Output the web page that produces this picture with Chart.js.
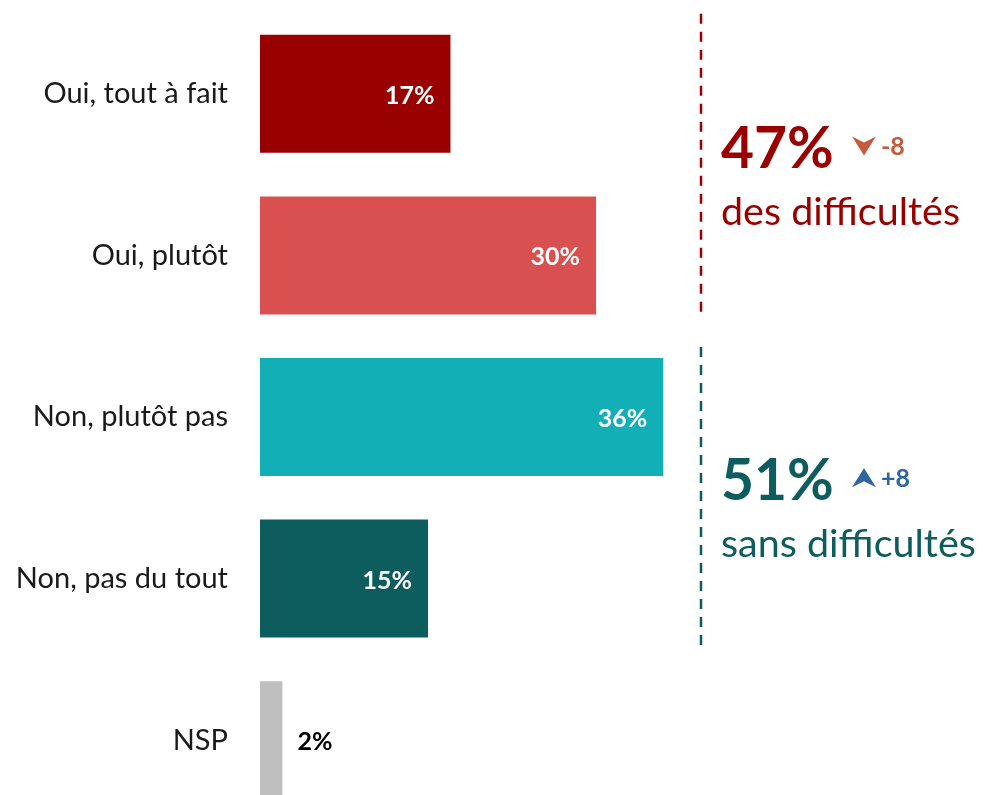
<!DOCTYPE html>
<html>
<head>
<meta charset="utf-8">
<script src="https://cdn.jsdelivr.net/npm/chart.js@4"></script>
<style>
  html, body { margin: 0; padding: 0; background: #fff; overflow: hidden; }
  canvas { display: block; }
</style>
</head>
<body>
<canvas id="chart" width="983" height="821"></canvas>
<script>
// Data
const categories = ["Oui, tout à fait", "Oui, plutôt", "Non, plutôt pas", "Non, pas du tout", "NSP"]
const values = [17, 30, 36, 15, 2]
const barColors = ["#990000", "#D95050", "#13AFB7", "#0D5C5E", "#BFBFBF"]

// Group summaries on the right
const groupTotals = ["47%", "51%"]
const groupTexts = ["des difficultés", "sans difficultés"]
const groupChanges = ["-8", "+8"]
const groupColors = ["#990000", "#0D5C5E"]
const changeColors = ["#C65A3E", "#2E64A0"]

const FONT = "Lato, 'Open Sans', sans-serif"

// value labels: white inside, black outside when the bar is too short
const barLabels = {
  id: "barLabels",
  afterDatasetsDraw(chart) {
    const ctx = chart.ctx
    const meta = chart.getDatasetMeta(0)
    ctx.save()
    ctx.font = "bold 25px " + FONT
    ctx.textBaseline = "middle"
    meta.data.forEach((bar, i) => {
      const txt = values[i] + "%"
      if (values[i] < 5) {
        ctx.fillStyle = "#000"
        ctx.textAlign = "left"
        ctx.fillText(txt, bar.x + 15, bar.y + 2)
      } else {
        ctx.fillStyle = "#fff"
        ctx.textAlign = "right"
        ctx.fillText(txt, bar.x - 16, bar.y + 2)
      }
    })
    ctx.restore()
  },
}

// dashed separators + totals
const groupNotes = {
  id: "groupNotes",
  afterDraw(chart) {
    const ctx = chart.ctx
    const y = chart.scales.y
    const lineX = 701
    const spans = [
      [y.getPixelForValue(0) - 80, y.getPixelForValue(1) + 62],
      [y.getPixelForValue(2) - 70, y.getPixelForValue(3) + 71],
    ]
    ctx.save()
    spans.forEach((s, g) => {
      ctx.strokeStyle = groupColors[g]
      ctx.lineWidth = 2.5
      ctx.setLineDash([10, 8])
      ctx.beginPath()
      ctx.moveTo(lineX, s[0])
      ctx.lineTo(lineX, s[1])
      ctx.stroke()
      ctx.setLineDash([])

      const topY = (s[0] + s[1]) / 2 + 2
      const x0 = 721

      ctx.fillStyle = groupColors[g]
      ctx.textAlign = "left"
      ctx.textBaseline = "alphabetic"
      ctx.font = "bold 57px " + FONT
      ctx.fillText(groupTotals[g], x0, topY)

      // chevron arrow
      const ax = 864
      const ay = topY - 22
      ctx.fillStyle = changeColors[g]
      ctx.beginPath()
      if (g === 0) {
        ctx.moveTo(ax - 12, ay - 9)
        ctx.lineTo(ax, ay - 3)
        ctx.lineTo(ax + 12, ay - 9)
        ctx.lineTo(ax, ay + 10)
      } else {
        ctx.moveTo(ax - 12, ay + 9)
        ctx.lineTo(ax, ay + 3)
        ctx.lineTo(ax + 12, ay + 9)
        ctx.lineTo(ax, ay - 10)
      }
      ctx.closePath()
      ctx.fill()

      ctx.font = "bold 25px " + FONT
      ctx.textBaseline = "middle"
      ctx.fillText(groupChanges[g], 881, ay + 1)

      ctx.fillStyle = groupColors[g]
      ctx.textBaseline = "alphabetic"
      ctx.font = "39.5px " + FONT
      ctx.fillText(groupTexts[g], x0, topY + 57)
    })
    ctx.restore()
  },
}

new Chart(document.getElementById("chart"), {
  type: "bar",
  data: {
    labels: categories,
    datasets: [
      {
        data: values,
        backgroundColor: barColors,
        borderWidth: 0,
        categoryPercentage: 1,
        barPercentage: 0.73,
      },
    ],
  },
  options: {
    indexAxis: "y",
    responsive: false,
    animation: false,
    events: [],
    layout: { padding: { top: 13, right: 6, bottom: 0, left: 0 } },
    plugins: {
      legend: { display: false },
      tooltip: { enabled: false },
    },
    scales: {
      x: {
        min: 0,
        max: 64,
        display: false,
        grid: { display: false },
      },
      y: {
        grid: { display: false },
        border: { display: false },
        ticks: {
          color: "#1a1a1a",
          font: { family: FONT, size: 29 },
          padding: 24,
        },
        afterFit(scale) {
          scale.width = 260
          scale.paddingTop = 0
          scale.paddingBottom = 0
        },
      },
    },
  },
  plugins: [barLabels, groupNotes],
})
</script>
</body>
</html>
